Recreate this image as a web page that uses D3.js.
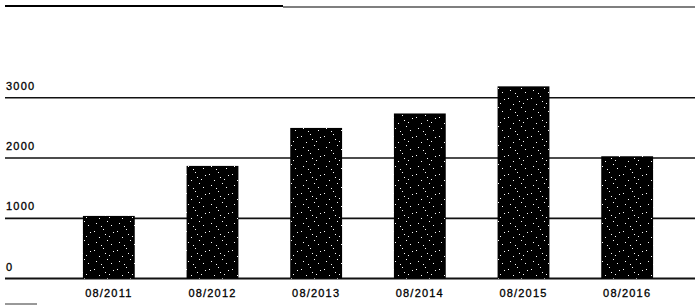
<!DOCTYPE html>
<html>
<head>
<meta charset="utf-8">
<script src="https://cdn.jsdelivr.net/npm/d3@7"></script>
<style>
  body { margin: 0; background: #fff; }
  svg { display: block; font-family: "Liberation Sans", Arial, sans-serif; }
</style>
</head>
<body>
<svg id="chart" width="695" height="306"></svg>
<script>
// values
const periods = ["08/2011", "08/2012", "08/2013", "08/2014", "08/2015", "08/2016"];
const values = [1040, 1870, 2500, 2740, 3190, 2030];
const yTicks = [0, 1000, 2000, 3000];

const width = 695, height = 306;
const svg = d3.select("#chart");

const x = d3.scaleBand()
  .domain(periods)
  .range([57, 679])
  .paddingInner(0.5)
  .paddingOuter(0.25);

const y = d3.scaleLinear()
  .domain([0, 3000])
  .range([278.6, 97.8]);

// speckled fill, like the scanned halftone
const defs = svg.append("defs");
const pat = defs.append("pattern")
  .attr("id", "speckle")
  .attr("patternUnits", "userSpaceOnUse")
  .attr("width", 23)
  .attr("height", 19);
pat.append("rect").attr("width", 23).attr("height", 19).attr("fill", "#000");
[[2, 3], [11, 1], [7, 9], [15, 12], [4, 14], [13, 6], [19, 16], [21, 4], [9, 17], [17, 8]]
  .forEach(([px, py]) => {
    pat.append("rect").attr("x", px).attr("y", py)
      .attr("width", 1).attr("height", 1).attr("fill", "#fff");
  });

// top rule (cut-off heading)
svg.append("line")
  .attr("x1", 5).attr("x2", 283).attr("y1", 6).attr("y2", 6)
  .attr("stroke", "#000").attr("stroke-width", 2);
svg.append("line")
  .attr("x1", 283).attr("x2", width).attr("y1", 7).attr("y2", 7)
  .attr("stroke", "#000").attr("stroke-width", 1.2);

// gridlines
svg.append("g")
  .selectAll("line")
  .data(yTicks)
  .join("line")
  .attr("x1", 5)
  .attr("x2", width)
  .attr("y1", (d) => y(d))
  .attr("y2", (d) => y(d))
  .attr("stroke", "#111")
  .attr("stroke-width", (d) => (d === 0 ? 2 : 1.6));

// y labels sit above their line
svg.append("g")
  .selectAll("text")
  .data(yTicks)
  .join("text")
  .attr("x", 6)
  .attr("y", (d) => y(d) - 8)
  .attr("font-size", 11)
  .attr("letter-spacing", 1.2)
  .attr("fill", "#000")
  .attr("stroke", "#000")
  .attr("stroke-width", 0.3)
  .text((d) => d);

// bars
svg.append("g")
  .selectAll("rect")
  .data(values)
  .join("rect")
  .attr("x", (d, i) => x(periods[i]))
  .attr("width", x.bandwidth())
  .attr("y", (d) => y(d))
  .attr("height", (d) => y(0) - y(d))
  .attr("fill", "url(#speckle)");

// x labels
svg.append("g")
  .selectAll("text")
  .data(periods)
  .join("text")
  .attr("x", (d) => x(d) + x.bandwidth() / 2)
  .attr("y", 297)
  .attr("text-anchor", "middle")
  .attr("font-size", 11)
  .attr("letter-spacing", 1.2)
  .attr("fill", "#000")
  .attr("stroke", "#000")
  .attr("stroke-width", 0.3)
  .text((d) => d);

// stray mark bottom-left
svg.append("line")
  .attr("x1", 5).attr("x2", 37).attr("y1", 304).attr("y2", 304)
  .attr("stroke", "#333").attr("stroke-width", 1);
</script>
</body>
</html>
